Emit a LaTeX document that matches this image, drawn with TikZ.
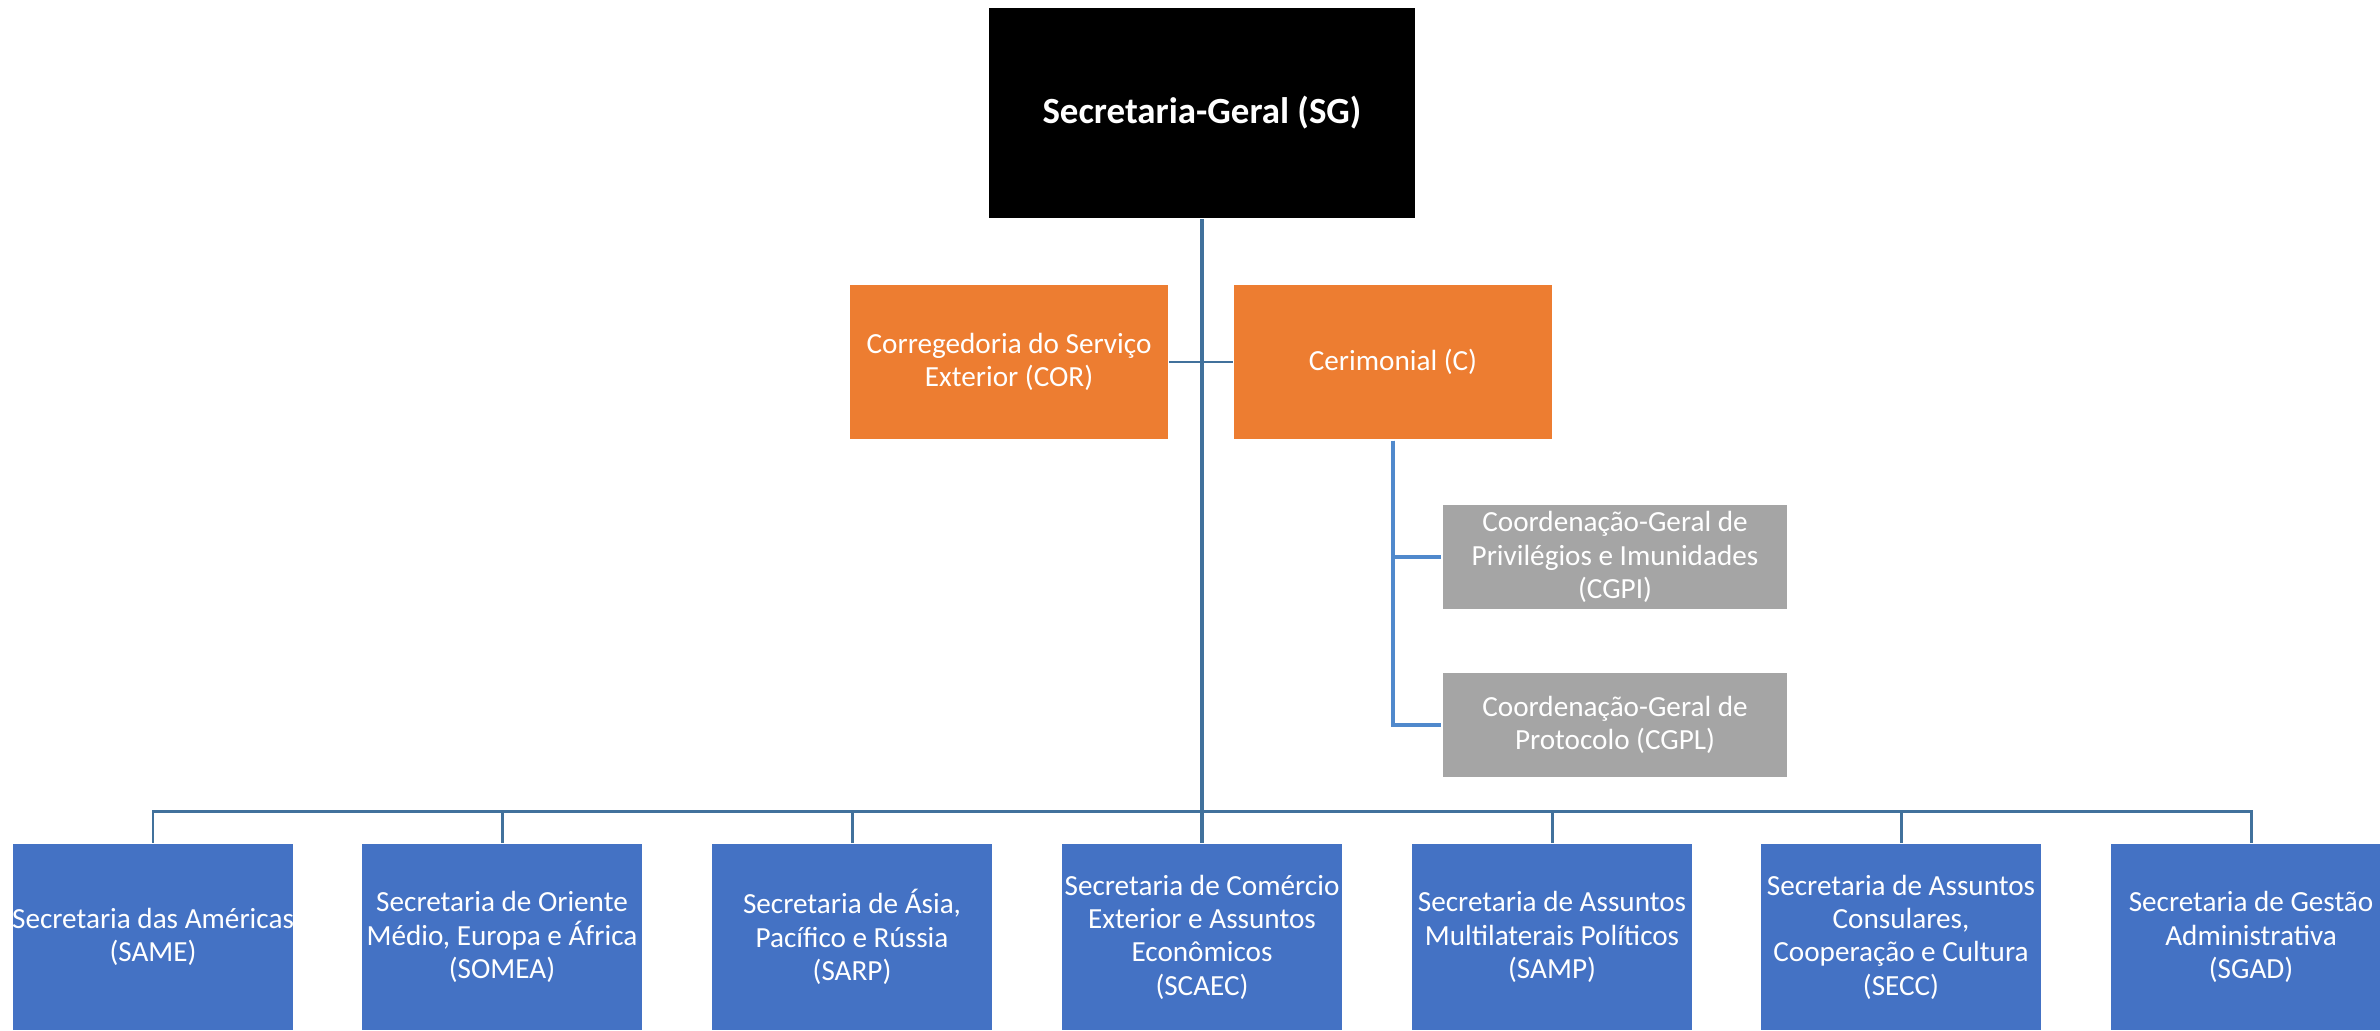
\documentclass[tikz,border=0pt]{standalone}
\usepackage{fontspec}
\setmainfont{Carlito}
\usepackage{tikz}

\definecolor{orgorange}{HTML}{ED7D31}
\definecolor{orgblue}{HTML}{4472C4}
\definecolor{orggray}{HTML}{A5A5A5}
\definecolor{linkblue}{HTML}{41719C}
\definecolor{sublink}{HTML}{5089CC}

\begin{document}
\begin{tikzpicture}[x=0.01cm, y=-0.01cm]
\tikzstyle{unit}=[rectangle, draw=white, line width=0.4pt, text=white, align=center, inner sep=0pt, font=\fontsize{8.3}{9.5}\selectfont]
\tikzstyle{topbox}=[unit, fill=black, minimum width=4.27cm, minimum height=2.11cm, font=\fontsize{10.5}{12}\selectfont\bfseries]
\tikzstyle{staff}=[unit, fill=orgorange, minimum width=3.19cm, minimum height=1.56cm]
\tikzstyle{coordbox}=[unit, fill=orggray, minimum width=3.46cm, minimum height=1.05cm]
\tikzstyle{secr}=[unit, fill=orgblue, minimum width=2.82cm, minimum height=1.87cm]
\tikzstyle{link}=[draw=linkblue, line width=0.85pt]
\clip (0,0) rectangle (2380,1031);

\node[topbox] (sg) at (1202,113) {Secretaria-Geral (SG)};
\node[staff] (cor) at (1009,362) {Corregedoria do Serviço\\Exterior (COR)};
\node[staff] (c) at (1393,362) {Cerimonial (C)};
\node[coordbox] (cgpi) at (1615,557) {Coordenação-Geral de\\Privilégios e Imunidades\\(CGPI)};
\node[coordbox] (cgpl) at (1615,725) {Coordenação-Geral de\\Protocolo (CGPL)};

\node[secr] (same) at (153,937) {Secretaria das Américas\\(SAME)};
\node[secr] (somea) at (502,937) {Secretaria de Oriente\\Médio, Europa e África\\(SOMEA)};
\node[secr] (sarp) at (852,937) {Secretaria de Ásia,\\Pacífico e Rússia\\(SARP)};
\node[secr] (scaec) at (1202,937) {Secretaria de Comércio\\Exterior e Assuntos\\Econômicos\\(SCAEC)};
\node[secr] (samp) at (1552,937) {Secretaria de Assuntos\\Multilaterais Políticos\\(SAMP)};
\node[secr] (secc) at (1901,937) {Secretaria de Assuntos\\Consulares,\\Cooperação e Cultura\\(SECC)};
\node[secr] (sgad) at (2251,937) {Secretaria de Gestão\\Administrativa\\(SGAD)};

% tree lines
\coordinate (bus) at (1202,811);
\draw[link, line width=1.4pt] (sg.south) -- (scaec.north);
\foreach \s in {same,somea,sarp,samp,secc,sgad}
  \draw[link] (\s.north) |- (bus);
\draw[link] (cor.east) -- (c.west);
\draw[link, draw=sublink, line width=1.1pt] (c.south) |- (cgpi.west);
\draw[link, draw=sublink, line width=1.1pt] (c.south) |- (cgpl.west);

\end{tikzpicture}
\end{document}
